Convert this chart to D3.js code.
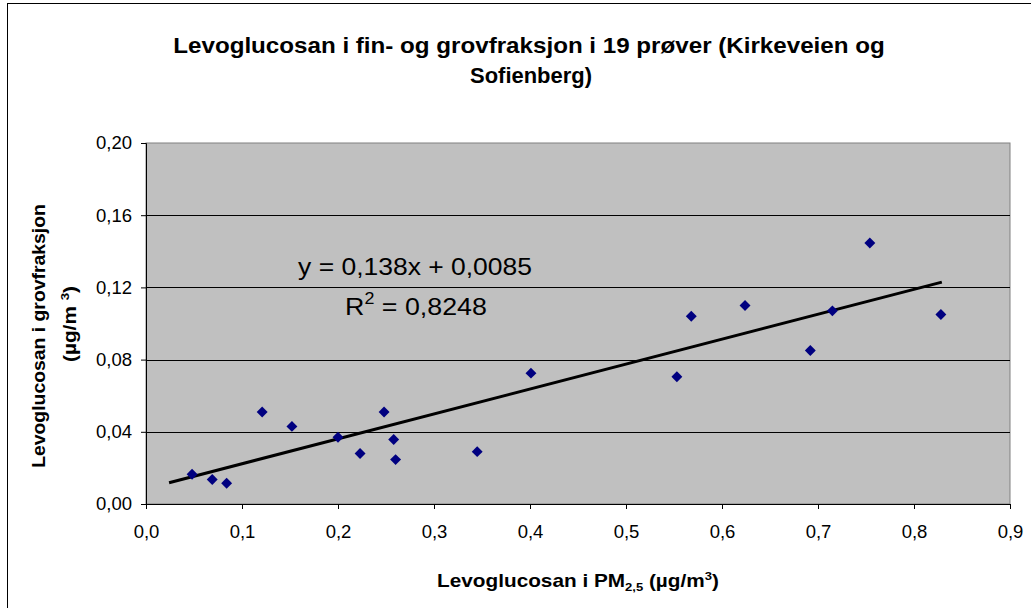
<!DOCTYPE html>
<html><head><meta charset="utf-8">
<script src="https://cdn.jsdelivr.net/npm/d3@7"></script>
<style>body{margin:0;background:#fff}svg{display:block;font-family:"Liberation Sans",Arial,sans-serif}</style>
</head><body>
<svg id="c" width="1031" height="608"></svg>
<script>
const titleLines = ["Levoglucosan i fin- og grovfraksjon i 19 prøver (Kirkeveien og", "Sofienberg)"];
const xValues = [0.048,0.069,0.084,0.121,0.152,0.200,0.223,0.248,0.258,0.260,0.345,0.401,0.553,0.568,0.624,0.692,0.715,0.754,0.828];
const yValues = [0.0165,0.0136,0.0115,0.051,0.043,0.037,0.028,0.051,0.0357,0.0246,0.029,0.0725,0.0705,0.104,0.110,0.085,0.107,0.1446,0.105];
const xTicks = [0,0.1,0.2,0.3,0.4,0.5,0.6,0.7,0.8,0.9];
const yTicks = [0,0.04,0.08,0.12,0.16,0.20];
const slope = 0.138, intercept = 0.0085;
const trendRange = [0.024, 0.829];
const eqText = "y = 0,138x + 0,0085";
const r2Text = " = 0,8248";

const svg = d3.select("#c");
const L=146, R=1010, T=143, B=504;
const x = d3.scaleLinear().domain([0,0.9]).range([L,R]);
const y = d3.scaleLinear().domain([0,0.2]).range([B,T]);
const fmtX = d => d3.format(".1f")(d).replace(".", ",");
const fmtY = d => d3.format(".2f")(d).replace(".", ",");

// stretch a text element horizontally (in its own frame) to a target width, centred on cx
function fit(g, target, cx, by, rot) {
  const t = g.select("text");
  const w = t.node().getComputedTextLength ? t.node().getBBox().width : target;
  const s = target / w;
  g.attr("transform", `translate(${cx},${by})` + (rot ? ` rotate(${rot})` : "") + ` scale(${s},1)`);
}

// chart border (left and top visible)
svg.append("rect").attr("x",7.5).attr("y",3.5).attr("width",1100).attr("height",700)
  .attr("fill","#fff").attr("stroke","#000").attr("stroke-width",1);

// plot area
svg.append("rect").attr("x",L).attr("y",T).attr("width",R-L).attr("height",B-T)
  .attr("fill","#c0c0c0").attr("stroke","#808080").attr("stroke-width",1);

// gridlines
svg.append("g").selectAll("line").data(yTicks.filter(d=>d>0 && d<0.2)).join("line")
  .attr("x1",L).attr("x2",R).attr("y1",d=>Math.round(y(d))+0.5).attr("y2",d=>Math.round(y(d))+0.5)
  .attr("stroke","#000").attr("stroke-width",1);

// axes
const ax = svg.append("g").attr("transform",`translate(0,${B})`)
  .call(d3.axisBottom(x).tickValues(xTicks).tickFormat(fmtX).tickSize(5).tickPadding(16));
const ay = svg.append("g").attr("transform",`translate(${L},0)`)
  .call(d3.axisLeft(y).tickValues(yTicks).tickFormat(fmtY).tickSize(5).tickPadding(9));
[ax,ay].forEach(g=>{
  g.selectAll("text").attr("font-size",18.5).attr("fill","#000").attr("font-family","Liberation Sans, Arial, sans-serif");
  g.selectAll("line").attr("stroke","#000");
  g.select(".domain").attr("stroke","#000");
});

// trendline
svg.append("line")
  .attr("x1",x(trendRange[0])).attr("y1",y(slope*trendRange[0]+intercept))
  .attr("x2",x(trendRange[1])).attr("y2",y(slope*trendRange[1]+intercept))
  .attr("stroke","#000").attr("stroke-width",3);

// points
const pts = xValues.map((v,i)=>({x:v,y:yValues[i]}));
svg.append("g").selectAll("path").data(pts).join("path")
  .attr("d", d3.symbol(d3.symbolDiamond2, 76))
  .attr("transform", d=>`translate(${x(d.x)},${y(d.y)})`)
  .attr("fill","#000080");

// equation
const eqG = svg.append("g");
eqG.append("text").attr("x",0).attr("y",0).attr("text-anchor","middle").attr("font-size",24).attr("fill","#000").text(eqText);
fit(eqG, 234, 415, 275);
const r2G = svg.append("g");
const r2 = r2G.append("text").attr("x",0).attr("y",0).attr("text-anchor","middle").attr("font-size",24).attr("fill","#000");
r2.append("tspan").text("R");
r2.append("tspan").attr("dy",-11).attr("font-size",16).text("2");
r2.append("tspan").attr("dy",11).text(r2Text);
fit(r2G, 142, 416, 315);

// title
titleLines.forEach((line,i)=>{
  const g = svg.append("g");
  g.append("text").attr("text-anchor","middle").attr("font-weight","bold").attr("font-size",21.5).attr("fill","#000").text(line);
  fit(g, i===0 ? 712 : 122, i===0 ? 529 : 531, 53 + i*30);
});

// x label
const xlG = svg.append("g");
const xl = xlG.append("text").attr("text-anchor","middle").attr("font-weight","bold").attr("font-size",17.5).attr("fill","#000");
xl.append("tspan").text("Levoglucosan i PM");
xl.append("tspan").attr("dy",4).attr("font-size",11).text("2,5");
xl.append("tspan").attr("dy",-4).text(" (µg/m");
xl.append("tspan").attr("dy",-7).attr("font-size",11).text("3");
xl.append("tspan").attr("dy",7).text(")");
fit(xlG, 282, 578, 587);

// y label
const yl1 = svg.append("g");
yl1.append("text").attr("text-anchor","middle").attr("font-weight","bold").attr("font-size",18).attr("fill","#000").text("Levoglucosan i grovfraksjon");
fit(yl1, 264, 45, 336, -90);
const yl2 = svg.append("g");
const t2 = yl2.append("text").attr("text-anchor","middle").attr("font-weight","bold").attr("font-size",18).attr("fill","#000");
t2.append("tspan").text("(µg/m ");
t2.append("tspan").attr("dy",-7).attr("font-size",11.5).text("3");
t2.append("tspan").attr("dy",7).text(")");
fit(yl2, 76, 76, 324, -90);
</script>
</body></html>
